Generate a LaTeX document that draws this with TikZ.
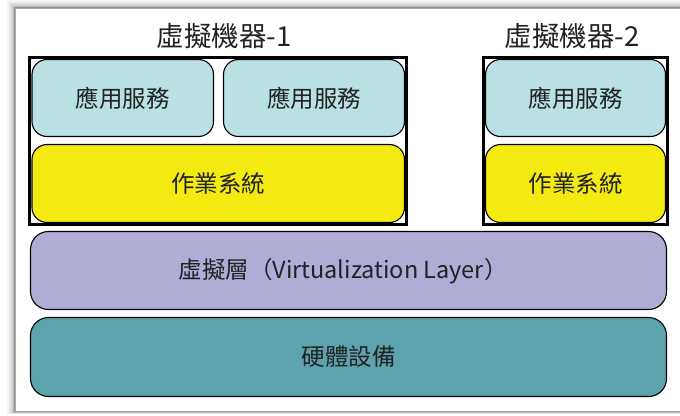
\documentclass[tikz,border=0pt]{standalone}
\usepackage{fontspec}
\setmainfont{Noto Sans CJK TC}
\definecolor{appc}{HTML}{B9E0E2}
\definecolor{osc}{HTML}{F4EA12}
\definecolor{virtc}{HTML}{AFADD6}
\definecolor{hwc}{HTML}{5CA3AE}
\definecolor{txt}{HTML}{222222}
\tikzset{
  layerbox/.style={draw=black, line width=1.1pt, rounded corners=15pt, text=txt,
    font=\fontsize{23.5}{26}\selectfont},
  vmbox/.style={draw=black, fill=white, line width=3pt},
  vmtitle/.style={text=txt, font=\fontsize{27.5}{30}\selectfont}
}
\begin{document}
\begin{tikzpicture}[x=1pt,y=-1pt]
\useasboundingbox (0,0) rectangle (680,415);
% background and shadow
\fill[white] (0,0) rectangle (680,415);
\foreach \d/\o in {8/0.04,6/0.06,4/0.08,2/0.12,1/0.2}{
  \fill[black,opacity=\o] (15-\d,8-\d) rectangle (690,412+\d*0.3);
}
\fill[white] (15,8) rectangle (680,411);
\draw[gray!70,line width=0.6pt] (15,8) -- (680,8);
\draw[gray!70,line width=0.6pt] (15,8) -- (15,411) -- (680,411);
% VM frames
\draw[vmbox] (29.5,57.5) rectangle (406.5,224.5);
\draw[vmbox] (483.5,57.5) rectangle (667.5,224.5);
% titles
\node[vmtitle] (t1) at (224,36) {虛擬機器-1};
\node[vmtitle] (t2) at (572,36) {虛擬機器-2};
% app boxes
\draw[layerbox, fill=appc] (32,59.5) rectangle (213.5,136.5);
\node[layerbox, draw=none] (a1) at (122.75,98) {應用服務};
\draw[layerbox, fill=appc] (223.5,59.5) rectangle (404.5,136.5);
\node[layerbox, draw=none] (a2) at (314,98) {應用服務};
\draw[layerbox, fill=appc] (485.5,59.5) rectangle (665.5,136.5);
\node[layerbox, draw=none] (a3) at (575.5,98) {應用服務};
% OS boxes
\draw[layerbox, fill=osc] (32,144.5) rectangle (404.5,222.5);
\node[layerbox, draw=none] (o1) at (218.25,184) {作業系統};
\draw[layerbox, fill=osc] (485.5,144.5) rectangle (665.5,222.5);
\node[layerbox, draw=none] (o2) at (575.5,184) {作業系統};
% virtualization layer
\draw[layerbox, fill=virtc, rounded corners=18pt] (30.5,231.5) rectangle (666.5,309.5);
\node[layerbox, draw=none] (v) at (343,271) {虛擬層（Virtualization Layer）};
% hardware
\draw[layerbox, fill=hwc, rounded corners=18pt] (30.5,317.5) rectangle (666.5,396.5);
\node[layerbox, draw=none] (h) at (348.5,357) {硬體設備};
\end{tikzpicture}
\end{document}
